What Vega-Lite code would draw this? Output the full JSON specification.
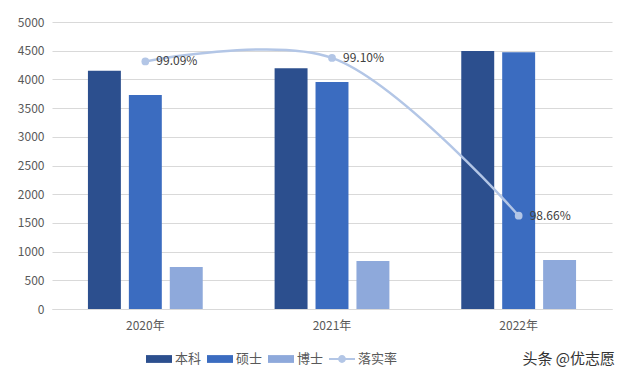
{
  "$schema": "https://vega.github.io/schema/vega-lite/v6.json",
  "width": 560,
  "height": 287,
  "autosize": {"type": "none"},
  "padding": {"left": 52, "top": 22, "right": 28, "bottom": 76},
  "background": "white",
  "config": {
    "font": "Noto Sans CJK SC",
    "view": {"stroke": null},
    "axis": {
      "labelColor": "#595959",
      "labelFontSize": 12,
      "titleFontSize": 12,
      "ticks": false,
      "gridColor": "#d9d9d9",
      "domainColor": "#d9d9d9"
    }
  },
  "title": {
    "text": "头条 @优志愿",
    "orient": "bottom",
    "anchor": "end",
    "frame": "group",
    "fontSize": 15,
    "fontWeight": "normal",
    "color": "#333333",
    "offset": -14,
    "dx": 3
  },
  "datasets": {
    "bars": [
      {"year": "2020年", "degree": "本科", "value": 4150},
      {"year": "2020年", "degree": "硕士", "value": 3730},
      {"year": "2020年", "degree": "博士", "value": 732},
      {"year": "2021年", "degree": "本科", "value": 4195},
      {"year": "2021年", "degree": "硕士", "value": 3955},
      {"year": "2021年", "degree": "博士", "value": 836},
      {"year": "2022年", "degree": "本科", "value": 4495},
      {"year": "2022年", "degree": "硕士", "value": 4475},
      {"year": "2022年", "degree": "博士", "value": 854}
    ],
    "rate": [
      {"year": "2020年", "rate": 99.09, "label": "99.09%"},
      {"year": "2021年", "rate": 99.10, "label": "99.10%"},
      {"year": "2022年", "rate": 98.66, "label": "98.66%"}
    ]
  },
  "layer": [
    {
      "data": {"name": "bars"},
      "mark": {"type": "bar"},
      "encoding": {
        "x": {
          "field": "year", "type": "nominal",
          "scale": {"paddingInner": 0, "paddingOuter": 0},
          "axis": {"title": null, "labelAngle": 0, "labelPadding": 11, "domain": true, "grid": false}
        },
        "xOffset": {
          "field": "degree", "type": "nominal",
          "sort": ["本科", "硕士", "博士"],
          "scale": {"paddingInner": 0.195, "paddingOuter": 0.878}
        },
        "y": {
          "field": "value", "type": "quantitative",
          "scale": {"domain": [0, 5000], "nice": false},
          "axis": {"title": null, "format": "d", "values": [0, 500, 1000, 1500, 2000, 2500, 3000, 3500, 4000, 4500, 5000], "domain": false, "labelPadding": 8}
        },
        "color": {
          "field": "degree", "type": "nominal",
          "scale": {"domain": ["本科", "硕士", "博士", "落实率"], "range": ["#2c4f8e", "#3b6cc0", "#8ea9db", "#b3c6e6"]},
          "legend": {
            "title": null,
            "orient": "none",
            "legendX": 94,
            "legendY": 324,
            "direction": "horizontal",
            "labelFontSize": 13,
            "labelColor": "#595959",
            "symbolSize": 676,
            "symbolStrokeWidth": 0,
            "symbolOpacity": 1,
            "labelOffset": 3,
            "columnPadding": 5,
            "encode": {
              "symbols": {
                "update": {
                  "shape": {"signal": "datum.value === '落实率' ? 'M-1,-0.07H1V0.07H-1Z M0.3,0A0.3,0.3 0 1,1 -0.3,0A0.3,0.3 0 1,1 0.3,0Z' : 'M-1,-0.3H1V0.3H-1Z'"}
                }
              }
            }
          }
        }
      }
    },
    {
      "data": {"name": "rate"},
      "mark": {"type": "line", "interpolate": "catmull-rom", "strokeWidth": 2.5, "point": {"filled": true, "size": 60}},
      "encoding": {
        "x": {"field": "year", "type": "nominal"},
        "y": {"field": "rate", "type": "quantitative", "scale": {"domain": [98.4, 99.2], "nice": false, "zero": false}, "axis": null},
        "color": {"datum": "落实率"}
      }
    },
    {
      "data": {"name": "rate"},
      "mark": {"type": "text", "align": "left", "dx": 11, "dy": 0, "fontSize": 12, "color": "#404040"},
      "encoding": {
        "x": {"field": "year", "type": "nominal"},
        "y": {"field": "rate", "type": "quantitative", "scale": {"domain": [98.4, 99.2], "nice": false, "zero": false}, "axis": null},
        "text": {"field": "label"}
      }
    }
  ],
  "resolve": {"scale": {"y": "independent"}}
}
